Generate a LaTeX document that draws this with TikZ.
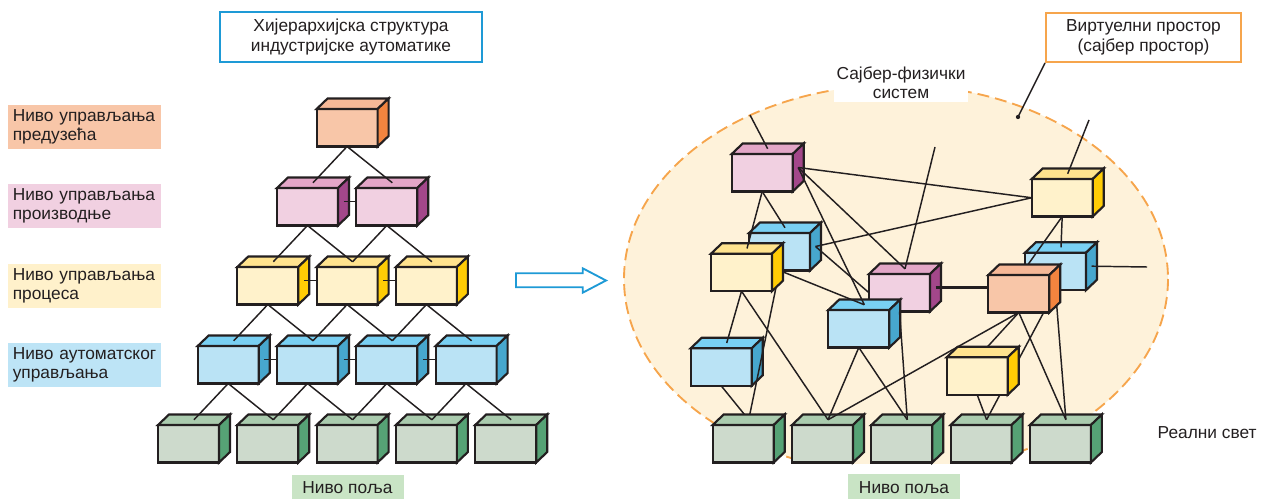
\documentclass[tikz,border=0pt]{standalone}
\usepackage{fontspec}
\setmainfont{Liberation Sans}
\usetikzlibrary{calc}

\definecolor{ink}{HTML}{231F20}
\definecolor{orfront}{HTML}{F8C6A8}
\definecolor{ortop}{HTML}{F6B897}
\definecolor{orside}{HTML}{F2843F}
\definecolor{pufront}{HTML}{F1D0E1}
\definecolor{putop}{HTML}{E3A6C7}
\definecolor{puside}{HTML}{A3478A}
\definecolor{yefront}{HTML}{FFF2CB}
\definecolor{yetop}{HTML}{FFE38E}
\definecolor{yeside}{HTML}{FFCC05}
\definecolor{blfront}{HTML}{BAE3F5}
\definecolor{bltop}{HTML}{79D0F3}
\definecolor{blside}{HTML}{47A7CE}
\definecolor{grfront}{HTML}{CDDACC}
\definecolor{grtop}{HTML}{AACBAE}
\definecolor{grside}{HTML}{56A275}
\definecolor{cpsfill}{HTML}{FEF2DA}
\definecolor{cpsedge}{HTML}{F6A54C}
\definecolor{titleblue}{HTML}{1E9AD6}
\definecolor{lvlyellow}{HTML}{FFF1CB}
\definecolor{lvlblue}{HTML}{BDE4F6}
\definecolor{lvlgreen}{HTML}{C9E4C5}

\pgfdeclarelayer{backdrop}
\pgfdeclarelayer{backcubes}
\pgfdeclarelayer{hiddenlinks}
\pgfdeclarelayer{frontcubes}
\pgfsetlayers{backdrop,backcubes,hiddenlinks,frontcubes,main}

\newcommand{\txtsize}{\fontsize{13}{14.5}\selectfont}

\tikzset{
  cubeline/.style={draw=ink, line width=1.6pt},
  cubefront/.style={cubeline, rectangle, inner sep=0pt, outer sep=0pt,
    minimum width=45.75pt, minimum height=28.125pt},
  link/.style={draw=ink, line width=1.1pt},
  level/.style={anchor=west, text width=108pt, inner xsep=3.375pt, inner ysep=0pt,
    minimum height=33pt, align=left, font=\txtsize, text=ink},
  field/.style={fill=lvlgreen, minimum width=84pt, minimum height=20.25pt,
    font=\txtsize, text=ink},
  titlebox/.style={draw=#1, line width=1.5pt, fill=white, align=center,
    font=\txtsize, text=ink}
}

% box with front, top and side face; anchors -t (top face) and -e (side face)
\newcommand{\drawcube}[5][backcubes]{%
  \begin{pgfonlayer}{#1}
    \node[cubefront, fill=#5front, anchor=north west] (#2) at (#3,#4) {};
    \filldraw[cubeline, fill=#5top] (#2.north west) -- ++(11,-10.5) -- ++(61,0) -- (#2.north east) -- cycle;
    \filldraw[cubeline, fill=#5side] (#2.north east) -- ++(11,-10.5) -- ++(0,37.5) -- (#2.south east) -- cycle;
    \coordinate (#2-t) at ($(#2.north)+(5.5,-5.25)$);
    \coordinate (#2-e) at ($(#2.east)+(5.5,-5.25)$);
  \end{pgfonlayer}}

\begin{document}
\begin{tikzpicture}[x=0.75pt, y=-0.75pt]
\useasboundingbox (0,0) rectangle (1261,499);

% cyber-physical system
\begin{pgfonlayer}{backdrop}
  \draw[cpsedge, dash pattern=on 9pt off 4.5pt, line width=1.4pt, fill=cpsfill] (896,279) ellipse [x radius=272, y radius=194];
  \fill[white] (790,463.5) rectangle (1020,474);
  \node[fill=white, align=center, font=\txtsize, text=ink, inner sep=2pt] (cps) at (901,83) {Сајбер-физички\\систем};
\end{pgfonlayer}

% headings and level names
\node[titlebox=titleblue, minimum width=196.5pt, minimum height=37.5pt] (hier) at (351,37) {Хијерархијска структура\\индустријске аутоматике};
\node[titlebox=cpsedge, minimum width=146.25pt, minimum height=37pt] (virt) at (1143.5,37.3) {Виртуелни простор\\(сајбер простор)};
\node[level, fill=orfront] (lv1) at (8,127) {Ниво управљања\\предузећа};
\node[level, fill=pufront] (lv2) at (8,206) {Ниво управљања\\производње};
\node[level, fill=lvlyellow] (lv3) at (8,286) {Ниво управљања\\процеса};
\node[level, fill=lvlblue] (lv4) at (8,365) {Ниво аутоматског\\управљања};
\node[field] (fl1) at (347.5,488) {Ниво поља};
\node[field] (fl2) at (904,487.5) {Ниво поља};
\node[anchor=west, font=\txtsize, text=ink] (real) at (1153,433) {Реални свет};

\coordinate (dotp) at (1018,117);
\draw[link] (virt.south west) -- (dotp);
\fill[ink] (dotp) circle (1.6pt);

% hollow arrow
\draw[titleblue, line width=1.4pt, fill=white] (516,273.3) -- (582.7,273.3) -- (582.7,268.3) -- (606,280.5) -- (582.7,292.7) -- (582.7,287.3) -- (516,287.3) -- cycle;

% pyramid
\drawcube{e1}{316.6}{109}{or}
\drawcube{p1}{277}{188}{pu}
\drawcube{p2}{356.3}{188}{pu}
\drawcube{c1}{237.3}{267}{ye}
\drawcube{c2}{316.6}{267}{ye}
\drawcube{c3}{395.9}{267}{ye}
\drawcube{a1}{197.7}{346}{bl}
\drawcube{a2}{277}{346}{bl}
\drawcube{a3}{356.3}{346}{bl}
\drawcube{a4}{435.6}{346}{bl}
\drawcube{f1}{158}{425}{gr}
\drawcube{f2}{237.3}{425}{gr}
\drawcube{f3}{316.6}{425}{gr}
\drawcube{f4}{395.9}{425}{gr}
\drawcube{f5}{475.2}{425}{gr}

\draw[link] (e1.south) -- (p1-t);
\draw[link] (e1.south) -- (p2-t);
\draw[link] (p1.south) -- (c1-t);
\draw[link] (p1.south) -- (c2-t);
\draw[link] (p2.south) -- (c2-t);
\draw[link] (p2.south) -- (c3-t);
\draw[link] (c1.south) -- (a1-t);
\draw[link] (c1.south) -- (a2-t);
\draw[link] (c2.south) -- (a2-t);
\draw[link] (c2.south) -- (a3-t);
\draw[link] (c3.south) -- (a3-t);
\draw[link] (c3.south) -- (a4-t);
\draw[link] (a1.south) -- (f1-t);
\draw[link] (a1.south) -- (f2-t);
\draw[link] (a2.south) -- (f2-t);
\draw[link] (a2.south) -- (f3-t);
\draw[link] (a3.south) -- (f3-t);
\draw[link] (a3.south) -- (f4-t);
\draw[link] (a4.south) -- (f4-t);
\draw[link] (a4.south) -- (f5-t);
\draw[link] (p1-e) -- (p1-e -| p2.west);
\draw[link] (c1-e) -- (c1-e -| c2.west);
\draw[link] (c2-e) -- (c2-e -| c3.west);
\draw[link] (a1-e) -- (a1-e -| a2.west);
\draw[link] (a2-e) -- (a2-e -| a3.west);
\draw[link] (a3-e) -- (a3-e -| a4.west);

% networked boxes
\drawcube{rf2}{792}{425}{gr}
\drawcube{rf3}{871.3}{425}{gr}
\drawcube{rf4}{950.6}{425}{gr}
\drawcube{rf5}{1029.9}{425}{gr}
\drawcube{ra3}{690.7}{348.3}{bl}
\drawcube{rp2}{869}{274}{pu}
\drawcube{ra2}{828.3}{310}{bl}
\drawcube{ra1}{749}{233}{bl}
\drawcube{ra4}{1025}{252.7}{bl}
\drawcube{rc2}{1031.7}{179}{ye}
\drawcube{rp1}{731.7}{154}{pu}
\drawcube[frontcubes]{rf1}{712.7}{425}{gr}
\drawcube[frontcubes]{rc1}{711}{253.7}{ye}
\drawcube[frontcubes]{re1}{988.3}{275}{or}
\drawcube[frontcubes]{rc3}{946.7}{357.3}{ye}

\coordinate (lk1) at (750,115);
\coordinate (lk2) at (935,147);
\coordinate (lk3) at (1089,120);
\coordinate (lk4) at (1147,267);

\begin{pgfonlayer}{hiddenlinks}
  \draw[link] (ra1.south) -- (rf1-t);
  \draw[link] (ra3.south) -- (rf1-t);
  \draw[link] (ra1.south) -- (ra2-t);
  \draw[link] (ra4.south) -- (rf5-t);
  \draw[link] (ra4.south) -- (rf4-t);
  \draw[link] (rc2.south) -- (re1-t);
  \draw[link] (re1.south) -- (rc3-t);
\end{pgfonlayer}

\draw[link] (lk1) -- (rp1-t);
\draw[link] (rp1.south) -- (rc1-t);
\draw[link] (rp1.south) -- (ra1-t);
\draw[link] (rp1-e) -- (rc2.west);
\draw[link] (rc2.west) -- (ra1-e);
\draw[link] (rp1-e) -- (rp2-t);
\draw[link] (rp1-e) -- (ra2-t);
\draw[link] (ra1-e) -- (rp2.west);
\draw[link] (lk2) -- (rp2-t);
\draw[link] (rc1.south) -- (ra3-t);
\draw[link] (rc1.south) -- (rf2-t);
\draw[link] (ra2.south) -- (rf2-t);
\draw[link] (ra2.south) -- (rf3-t);
\draw[link] (rp2.south) -- (rf3-t);
\draw[link, line width=2.2pt] (rp2-e) -- (rp2-e -| re1.west);
\draw[link] (re1.south) -- (rf2-t);
\draw[link] (re1.south) -- (rf5-t);
\draw[link] (rc3.south) -- (rf4-t);
\draw[link] (rc2.south) -- (ra4-t);
\draw[link] (lk3) -- (rc2-t);
\draw[link] (ra4-e) -- (lk4);
\end{tikzpicture}
\end{document}
